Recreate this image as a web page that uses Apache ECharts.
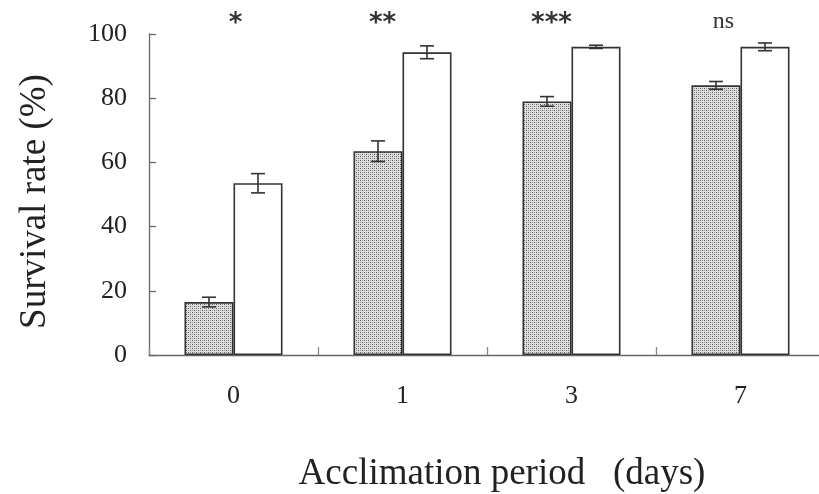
<!DOCTYPE html>
<html><head><meta charset="utf-8">
<script src="https://cdn.jsdelivr.net/npm/echarts@6/dist/echarts.min.js"></script>
<style>html,body{margin:0;padding:0;background:#fff}#c{width:819px;height:494px}</style>
</head><body><div id="c"></div>
<script>
var categories = ['0', '1', '3', '7'];
var dottedValues = [16.5, 63.5, 79, 84];
var dottedErrors = [1.5, 3.2, 1.5, 1.2];
var whiteValues = [53.5, 94.3, 96, 96];
var whiteErrors = [3, 2, 0.5, 1.2];
var significance = ['*', '**', '***', 'ns'];
var yTicks = [0, 20, 40, 60, 80, 100];

var SERIF = '"Liberation Serif", "DejaVu Serif", serif';

// dotted fill pattern
var pc = document.createElement('canvas');
pc.width = 4; pc.height = 4;
var pctx = pc.getContext('2d');
pctx.fillStyle = '#dedede'; pctx.fillRect(0, 0, 4, 4);
pctx.fillStyle = '#5a5a5a';
pctx.fillRect(0, 0, 1, 1);
pctx.fillRect(2, 2, 1, 1);
pctx.fillStyle = '#9c9c9c';
pctx.fillRect(2, 0, 1, 1);
pctx.fillRect(0, 2, 1, 1);

var GAP = 0.42;
function errSeries(values, errs, side) {
  return {
    type: 'custom',
    z: 5,
    data: categories.map(function (c, i) { return [i, values[i], values[i] - errs[i], values[i] + errs[i]]; }),
    encode: { x: 0, y: [1, 2, 3] },
    renderItem: function (params, api) {
      var band = api.size([1, 0])[0];
      var off = side * band * (1 - GAP) / 4;
      var lo = api.coord([api.value(0), api.value(2)]);
      var hi = api.coord([api.value(0), api.value(3)]);
      var x = lo[0] + off;
      var hw = 7;
      var st = { stroke: '#333', lineWidth: 1.6 };
      return { type: 'group', children: [
        { type: 'line', shape: { x1: x, y1: lo[1], x2: x, y2: hi[1] }, style: st },
        { type: 'line', shape: { x1: x - hw, y1: lo[1], x2: x + hw, y2: lo[1] }, style: st },
        { type: 'line', shape: { x1: x - hw, y1: hi[1], x2: x + hw, y2: hi[1] }, style: st }
      ]};
    }
  };
}

var chart = echarts.init(document.getElementById('c'), null, { renderer: 'canvas' });
chart.setOption({
  animation: false,
  backgroundColor: '#fff',
  grid: { left: 149, top: 34, width: 676, height: 321, containLabel: false, outerBoundsMode: 'none' },
  xAxis: {
    type: 'category', data: categories,
    axisLine: { lineStyle: { color: '#666', width: 1.3 } },
    axisTick: { show: true, inside: true, length: 8, lineStyle: { color: '#888', width: 1.3 } },
    axisLabel: { fontFamily: SERIF, fontSize: 26, color: '#222', margin: 28 },
    name: 'Acclimation period   (days)', nameLocation: 'middle', nameGap: 101,
    nameTextStyle: { fontFamily: SERIF, fontSize: 37, color: '#222', padding: [0, 0, 0, 30] }
  },
  yAxis: {
    type: 'value', min: 0, max: 100, interval: 20,
    axisLine: { show: true, lineStyle: { color: '#666', width: 1.3 } },
    axisTick: { show: true, inside: true, length: 7, lineStyle: { color: '#666', width: 1.3 } },
    splitLine: { show: false },
    axisLabel: { fontFamily: SERIF, fontSize: 26, color: '#222', margin: 22,
      formatter: function (v) { return yTicks.indexOf(v) >= 0 ? String(v) : ''; } },
    name: 'Survival rate (%)', nameLocation: 'middle', nameGap: 95,
    nameTextStyle: { fontFamily: SERIF, fontSize: 37, color: '#222', padding: [0, 14, 0, 0] }
  },
  series: [
    { type: 'bar', data: dottedValues, barGap: '0%', barCategoryGap: (GAP * 100) + '%',
      itemStyle: { color: { image: pc, repeat: 'repeat' }, borderColor: '#333', borderWidth: 1.6 } },
    { type: 'bar', data: whiteValues, barGap: '0%', barCategoryGap: (GAP * 100) + '%',
      itemStyle: { color: '#fff', borderColor: '#333', borderWidth: 1.6 } },
    errSeries(dottedValues, dottedErrors, -1),
    errSeries(whiteValues, whiteErrors, 1)
  ]
});

var offsets = [2, -20, -20, -17];
var gr = significance.map(function (s, i) {
  var p = chart.convertToPixel({ gridIndex: 0 }, [i, 100]);
  var isNs = s === 'ns';
  return {
    type: 'text', x: p[0] + offsets[i], y: isNs ? 22 : 24,
    style: { text: s, fontFamily: isNs ? SERIF : '"DejaVu Sans", sans-serif',
      fontSize: isNs ? 24 : 26, fontWeight: isNs ? 'normal' : 'bold',
      fill: '#333', align: 'center', verticalAlign: 'middle' }
  };
});
chart.setOption({ graphic: gr });
</script></body></html>
